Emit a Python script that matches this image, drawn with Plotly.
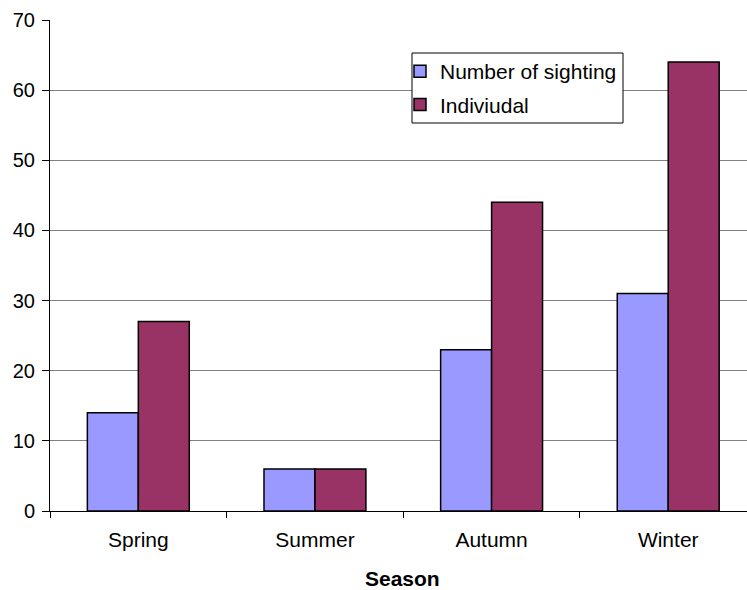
import plotly.graph_objects as go

seasons = ["Spring", "Summer", "Autumn", "Winter"]
sightings = [14, 6, 23, 31]
individuals = [27, 6, 44, 64]
y_ticks = [0, 10, 20, 30, 40, 50, 60, 70]

FONT = "Liberation Sans, Arial, sans-serif"

fig = go.Figure()
fig.add_trace(go.Bar(
    x=seasons, y=sightings, name="Number of sighting", legendgroup="a",
    marker=dict(color="#9999FF", line=dict(color="black", width=1.5)),
))
fig.add_trace(go.Bar(
    x=seasons, y=individuals, name="Indiviudal", legendgroup="b",
    marker=dict(color="#993366", line=dict(color="black", width=1.5)),
))

fig.update_layout(
    width=747, height=590,
    margin=dict(l=50, r=0, t=20, b=79),
    paper_bgcolor="white", plot_bgcolor="white",
    barmode="group", bargap=0.423, bargroupgap=0,
    font=dict(family=FONT, size=21, color="black"),
    showlegend=True,
    legend=dict(
        x=(400 - 50) / 697, y=(511 - 51) / 491, xanchor="left", yanchor="top",
        borderwidth=0, bgcolor="rgba(0,0,0,0)",
        font=dict(family=FONT, size=21, color="black"),
        traceorder="grouped", tracegroupgap=3,
    ),
    xaxis=dict(
        type="category", range=[-0.5, 3.446],
        showline=True, linecolor="black", linewidth=1,
        ticks="outside", tickson="boundaries", ticklen=6, tickcolor="black",
        showgrid=False, zeroline=False, ticklabelstandoff=10,
        tickfont=dict(family=FONT, size=21, color="black"),
    ),
    yaxis=dict(
        range=[0, 70], tickvals=y_ticks,
        showline=True, linecolor="black", linewidth=1,
        ticks="outside", ticklen=7, tickcolor="black",
        showgrid=True, gridcolor="#808080", gridwidth=1,
        zeroline=False, ticklabelstandoff=3,
        tickfont=dict(family=FONT, size=20, color="black"),
    ),
    # legend frame
    shapes=[dict(
        type="rect", xref="paper", yref="paper",
        x0=(412 - 50) / 697, x1=(623 - 50) / 697,
        y0=(511 - 123) / 491, y1=(511 - 53) / 491,
        line=dict(color="black", width=1), fillcolor="white", layer="above",
    )],
    annotations=[dict(
        text="<b>Season</b>", xref="paper", yref="paper",
        x=0.506, y=0, yshift=-67, xanchor="center", yanchor="middle",
        showarrow=False, font=dict(family=FONT, size=21, color="black"),
    )],
)

fig.write_html("out.html")
